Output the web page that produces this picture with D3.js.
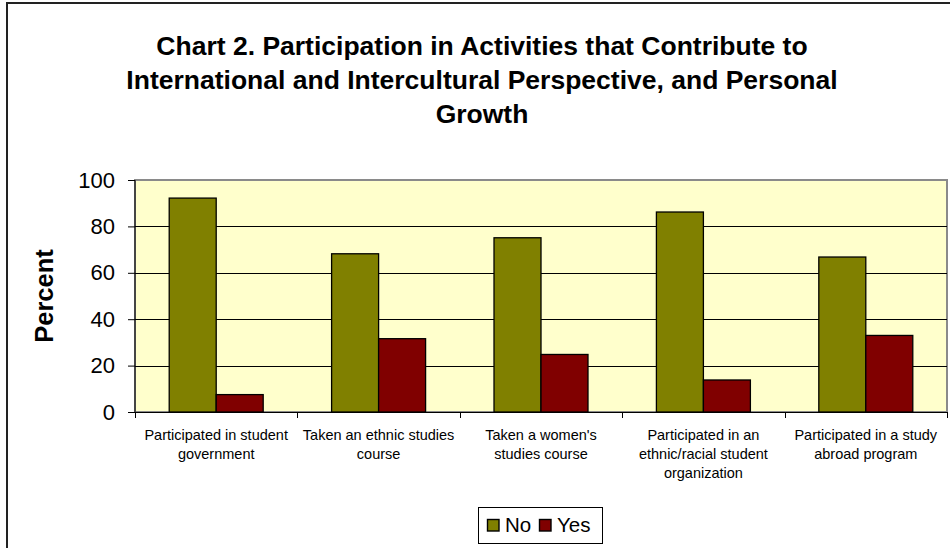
<!DOCTYPE html>
<html>
<head>
<meta charset="utf-8">
<script src="https://cdn.jsdelivr.net/npm/d3@7"></script>
<style>
  html, body { margin: 0; padding: 0; background: #fff; }
  svg { display: block; font-family: Arial, "Liberation Sans", sans-serif; }
</style>
</head>
<body>
<svg id="chart" width="950" height="548"></svg>
<script>
// Survey results: share of students answering No / Yes for each activity
const categories = [
  ["Participated in student", "government"],
  ["Taken an ethnic studies", "course"],
  ["Taken a women's", "studies course"],
  ["Participated in an", "ethnic/racial student", "organization"],
  ["Participated in a study", "abroad program"]
];
const seriesNames = ["No", "Yes"];
const noValues = [92.2, 68.2, 75.1, 86.2, 66.8];
const yesValues = [7.5, 31.6, 24.8, 13.8, 33.0];
const yTicks = [0, 20, 40, 60, 80, 100];
const titleLines = [
  "Chart 2. Participation in Activities that Contribute to",
  "International and Intercultural Perspective, and Personal",
  "Growth"
];
const colors = { No: "#808000", Yes: "#800000" };

const svg = d3.select("#chart");
const W = 950, H = 548;
const plot = { left: 135, right: 947, top: 180, bottom: 412 };

// Outer chart frame
svg.append("rect")
  .attr("x", 7).attr("y", 3)
  .attr("width", W + 20).attr("height", H + 20)
  .attr("fill", "#fff").attr("stroke", "#222").attr("stroke-width", 2);

// Title
svg.append("text")
  .attr("text-anchor", "middle")
  .attr("font-weight", "bold")
  .attr("font-size", 26.5)
  .attr("fill", "#000")
  .selectAll("tspan").data(titleLines).join("tspan")
  .attr("x", 482)
  .attr("y", (d, i) => 55 + i * 34)
  .text(d => d);

const idx = d3.range(categories.length);
const x = d3.scaleBand().domain(idx).range([plot.left, plot.right]).padding(0);
const xs = d3.scaleBand().domain(seriesNames).range([0, x.bandwidth()])
  .paddingInner(0).paddingOuter(0.728);
const y = d3.scaleLinear().domain([0, 100]).range([plot.bottom, plot.top]);

// Plot background
svg.append("rect")
  .attr("x", plot.left).attr("y", plot.top)
  .attr("width", plot.right - plot.left).attr("height", plot.bottom - plot.top)
  .attr("fill", "#FFFFCC").attr("stroke", "#8a8a8a").attr("stroke-width", 2);

// Horizontal gridlines
svg.append("g")
  .selectAll("line").data(yTicks.filter(t => t > 0 && t < 100)).join("line")
  .attr("x1", plot.left).attr("x2", plot.right)
  .attr("y1", d => Math.round(y(d)) + 0.5).attr("y2", d => Math.round(y(d)) + 0.5)
  .attr("stroke", "#000").attr("stroke-width", 1);

// Bars
const rows = idx.map(i => ({ i, No: noValues[i], Yes: yesValues[i] }));
svg.append("g")
  .selectAll("g").data(rows).join("g")
  .attr("transform", d => `translate(${x(d.i)},0)`)
  .selectAll("rect").data(d => seriesNames.map(k => ({ k, v: d[k] }))).join("rect")
  .attr("x", d => xs(d.k))
  .attr("y", d => y(d.v))
  .attr("width", xs.bandwidth())
  .attr("height", d => y(0) - y(d.v))
  .attr("fill", d => colors[d.k])
  .attr("stroke", "#000").attr("stroke-width", 1.3);

// Y axis
const yAxis = d3.axisLeft(y).tickValues(yTicks).tickSize(7).tickPadding(13);
const gy = svg.append("g").attr("transform", `translate(${plot.left},0)`).call(yAxis);
gy.select(".domain").attr("stroke", "#000").attr("d", `M0,${plot.top}V${plot.bottom}`);
gy.selectAll(".tick line").attr("stroke", "#000");
gy.selectAll(".tick text").attr("font-size", 22).attr("fill", "#000")
  .attr("font-family", "Arial, 'Liberation Sans', sans-serif");

// X axis with ticks between categories
const gx = svg.append("g").attr("transform", `translate(0,${plot.bottom})`);
gx.append("line").attr("x1", plot.left).attr("x2", plot.right)
  .attr("y1", 0.5).attr("y2", 0.5).attr("stroke", "#000");
const boundaries = idx.map(i => x(i)).concat([plot.right]);
gx.selectAll("line.tick").data(boundaries).join("line")
  .attr("class", "tick")
  .attr("x1", d => Math.round(d) + 0.5).attr("x2", d => Math.round(d) + 0.5)
  .attr("y1", 0).attr("y2", 6).attr("stroke", "#000");

// Category labels
gx.selectAll("text.cat").data(idx).join("text")
  .attr("class", "cat")
  .attr("text-anchor", "middle")
  .attr("font-size", 14.5)
  .attr("fill", "#000")
  .selectAll("tspan").data(i => categories[i].map(line => ({ i, line }))).join("tspan")
  .attr("x", d => x(d.i) + x.bandwidth() / 2)
  .attr("y", (d, j) => 28 + j * 19)
  .text(d => d.line);

// Y axis title
svg.append("text")
  .attr("transform", `translate(53,${(plot.top + plot.bottom) / 2}) rotate(-90)`)
  .attr("text-anchor", "middle")
  .attr("font-weight", "bold")
  .attr("font-size", 25.5)
  .attr("fill", "#000")
  .text("Percent");

// Legend
const leg = svg.append("g").attr("transform", "translate(478.5,507.5)");
leg.append("rect").attr("width", 124).attr("height", 36)
  .attr("fill", "#fff").attr("stroke", "#000").attr("stroke-width", 1);
const items = leg.selectAll("g").data(seriesNames).join("g")
  .attr("transform", (d, i) => `translate(${9 + i * 52},0)`);
items.append("rect").attr("x", 0).attr("y", 12).attr("width", 11.5).attr("height", 11.5)
  .attr("fill", d => colors[d]).attr("stroke", "#000").attr("stroke-width", 1.4);
items.append("text").attr("x", 17.5).attr("y", 24)
  .attr("font-size", 20.5).attr("fill", "#000").text(d => d);
</script>
</body>
</html>
